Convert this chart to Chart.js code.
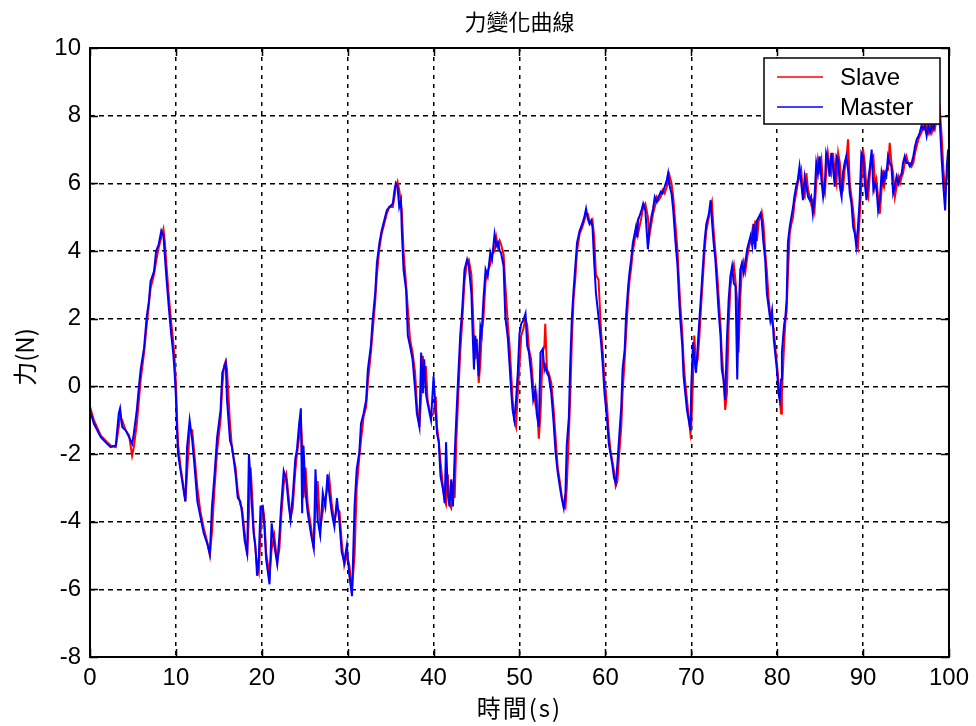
<!DOCTYPE html>
<html>
<head>
<meta charset="utf-8">
<script src="https://cdn.jsdelivr.net/npm/chart.js@4.4.0/dist/chart.umd.min.js"></script>
<style>
  html, body { margin: 0; padding: 0; background: #fff; }
  canvas { display: block; }
</style>
</head>
<body>
<canvas id="grafico" width="976" height="726"></canvas>
<script>
// textos do grafico
const titulo = "力變化曲線";
const rotuloX = "時間(s)";
const rotuloY = "力(N)";
const nomes = ["Slave", "Master"];

// marcas dos eixos
const ticksX = [0, 10, 20, 30, 40, 50, 60, 70, 80, 90, 100];
const ticksY = [-8, -6, -4, -2, 0, 2, 4, 6, 8, 10];

// tempo (s)
const tempo = [
  0, 0.45, 1.25, 2.0, 2.4, 3.0, 3.35, 3.5, 3.75, 4.15,
  4.55, 4.9, 5.1, 5.45, 5.7, 5.9, 6.3, 6.6, 6.85, 7.05,
  7.45, 7.7, 8.0, 8.3, 8.55, 8.7, 8.9, 9.2, 9.45, 9.7,
  9.85, 10.0, 10.1, 10.25, 10.55, 10.85, 11.1, 11.3, 11.6, 11.9,
  12.15, 12.5, 12.85, 13.25, 13.65, 13.95, 14.2, 14.5, 14.8, 15.2,
  15.4, 15.6, 15.8, 15.95, 16.3, 16.55, 16.95, 17.2, 17.5, 17.7,
  18.0, 18.3, 18.5, 18.7, 18.9, 19.05, 19.25, 19.45, 19.65, 19.85,
  20.1, 20.3, 20.5, 20.9, 21.15, 21.45, 21.8, 22.05, 22.25, 22.55,
  22.85, 23.1, 23.35, 23.6, 23.9, 24.1, 24.35, 24.55, 24.7, 24.85,
  25.1, 25.35, 25.75, 26.05, 26.25, 26.5, 26.8, 27.1, 27.4, 27.65,
  27.85, 28.15, 28.45, 28.75, 29.05, 29.3, 29.6, 29.9, 30.2, 30.5,
  30.8, 31.05, 31.35, 31.55, 31.85, 32.15, 32.35, 32.7, 32.9, 33.2,
  33.4, 33.7, 33.95, 34.25, 34.55, 34.85, 35.25, 35.45, 35.6, 35.8,
  36.0, 36.2, 36.3, 36.5, 36.8, 37.0, 37.25, 37.55, 37.85, 38.05,
  38.35, 38.55, 38.75, 38.9, 39.1, 39.3, 39.7, 40.0, 40.25, 40.4,
  40.6, 40.8, 41.1, 41.3, 41.45, 41.65, 41.85, 42.05, 42.25, 42.45,
  42.65, 42.85, 43.1, 43.35, 43.6, 43.9, 44.1, 44.4, 44.55, 44.7,
  44.85, 45.05, 45.25, 45.45, 45.6, 45.8, 46.05, 46.3, 46.6, 46.8,
  47.1, 47.3, 47.5, 47.7, 47.85, 48.15, 48.35, 48.65, 48.85, 49.05,
  49.2, 49.4, 49.6, 49.8, 50.0, 50.2, 50.45, 50.7, 50.9, 51.1,
  51.35, 51.6, 51.85, 52.0, 52.25, 52.45, 52.7, 52.9, 53.0, 53.2,
  53.4, 53.7, 53.95, 54.2, 54.45, 54.75, 54.95, 55.15, 55.35, 55.5,
  55.75, 55.9, 56.1, 56.3, 56.5, 56.7, 57.0, 57.3, 57.55, 57.75,
  57.95, 58.15, 58.35, 58.5, 58.7, 58.9, 59.2, 59.5, 59.7, 59.9,
  60.2, 60.4, 60.6, 60.8, 61.0, 61.2, 61.4, 61.55, 61.85, 62.0,
  62.25, 62.4, 62.65, 62.8, 63.0, 63.2, 63.4, 63.55, 63.7, 63.8,
  64.2, 64.4, 64.65, 64.95, 65.1, 65.35, 65.55, 65.75, 66.0, 66.2,
  66.45, 66.65, 66.9, 67.15, 67.3, 67.45, 67.7, 67.9, 68.15, 68.4,
  68.55, 68.7, 68.95, 69.1, 69.3, 69.5, 69.7, 69.9, 70.0, 70.2,
  70.35, 70.55, 70.75, 70.95, 71.15, 71.35, 71.55, 71.75, 72.05, 72.25,
  72.4, 72.6, 72.8, 73.0, 73.2, 73.4, 73.55, 73.75, 73.95, 74.15,
  74.35, 74.55, 74.75, 74.95, 75.15, 75.35, 75.5, 75.7, 75.9, 76.1,
  76.3, 76.5, 76.7, 76.9, 77.1, 77.25, 77.45, 77.65, 77.85, 78.05,
  78.2, 78.4, 78.6, 78.8, 79.0, 79.2, 79.4, 79.6, 79.8, 80.0,
  80.15, 80.3, 80.45, 80.55, 80.8, 80.95, 81.1, 81.25, 81.45, 81.65,
  81.85, 82.0, 82.2, 82.4, 82.6, 82.8, 83.0, 83.2, 83.4, 83.6,
  83.8, 83.95, 84.15, 84.35, 84.55, 84.75, 84.95, 85.15, 85.35, 85.55,
  85.7, 85.9, 86.1, 86.3, 86.5, 86.7, 86.9, 87.1, 87.3, 87.5,
  87.65, 87.85, 88.05, 88.25, 88.45, 88.65, 88.85, 89.05, 89.2, 89.4,
  89.6, 89.8, 90.0, 90.2, 90.4, 90.6, 90.8, 91.0, 91.2, 91.4,
  91.55, 91.75, 91.95, 92.15, 92.35, 92.5, 92.7, 92.9, 93.1, 93.3,
  93.5, 93.7, 93.9, 94.1, 94.3, 94.5, 94.65, 94.85, 95.05, 95.25,
  95.45, 95.65, 95.85, 96.05, 96.25, 96.45, 96.6, 96.8, 97.0, 97.2,
  97.4, 97.6, 97.8, 98.0, 98.2, 98.35, 98.55, 98.75, 98.95, 99.15,
  99.35, 99.55, 99.75, 99.9, 100
];

// forca do Slave (N)
const slave = [
  -0.6, -1.0, -1.45, -1.65, -1.75, -1.8, -1.2, -0.9, -1.0, -1.3,
  -1.45, -2.05, -1.8, -1.1, -0.4, 0.2, 1.0, 1.8, 2.4, 2.9,
  3.3, 3.7, 4.1, 4.4, 4.65, 4.3, 3.6, 2.6, 1.9, 1.3,
  0.8, 0.1, -0.7, -1.7, -2.4, -2.9, -3.4, -2.6, -1.3, -1.3,
  -2.0, -3.0, -3.7, -4.2, -4.6, -5.0, -4.3, -3.0, -1.9, -1.0,
  0.0, 0.6, 0.75, 0.5, -1.1, -1.9, -2.4, -3.1, -3.5, -3.6,
  -4.3, -5.0, -3.8, -2.4, -3.3, -4.2, -4.8, -5.3, -5.5, -4.4,
  -3.5, -3.9, -4.9, -5.6, -4.8, -4.4, -5.2, -4.8, -3.9, -2.9,
  -2.6, -3.2, -3.9, -3.6, -2.5, -2.0, -1.5, -1.0, -1.7, -3.3,
  -2.4, -3.5, -4.2, -4.8, -3.5, -2.8, -4.2, -3.7, -3.3, -3.0,
  -2.7, -3.5, -4.0, -3.6, -3.7, -4.6, -5.3, -5.0, -5.3, -6.0,
  -5.0, -3.0, -2.1, -1.6, -0.9, -0.6, 0.1, 1.0, 1.6, 2.5,
  3.3, 4.1, 4.5, 4.8, 5.1, 5.3, 5.3, 5.6, 5.9, 6.05,
  5.8, 5.4, 5.2, 4.0, 3.0, 2.3, 1.4, 1.0, 0.4, -0.5,
  -1.2, -0.3, 0.9, 0.2, 0.6, -0.4, -0.9, -0.8, -0.3, -1.2,
  -1.6, -2.2, -3.0, -3.4, -3.5, -2.6, -3.5, -3.6, -3.0, -3.3,
  -1.6, -0.4, 1.0, 2.0, 3.1, 3.7, 3.75, 3.3, 2.4, 1.4,
  0.8, 1.4, 0.1, 0.7, 1.6, 2.0, 3.1, 3.4, 3.6, 3.9,
  4.0, 4.4, 4.1, 4.3, 4.2, 3.9, 3.0, 1.8, 1.2, 0.3,
  -0.4, -1.0, -1.2, -0.2, 0.6, 1.5, 1.7, 2.0, 1.8, 1.1,
  0.8, 0.0, -0.5, -0.3, -1.55, -0.8, 1.0, 1.2, 1.85, 0.5,
  0.4, 0.1, -0.6, -1.5, -2.4, -2.9, -3.3, -3.55, -3.6, -3.0,
  -1.4, -0.4, 1.4, 2.6, 3.2, 4.0, 4.5, 4.7, 4.9, 5.1,
  5.1, 4.9, 4.8, 4.9, 4.4, 3.3, 3.15, 1.6, 1.0, 0.2,
  -0.6, -1.4, -1.9, -2.2, -2.5, -2.95, -2.8, -2.2, -1.2, -0.2,
  0.8, 1.5, 2.6, 3.1, 3.5, 4.0, 4.3, 4.6, 4.8, 4.5,
  5.0, 5.3, 5.4, 5.0, 4.4, 4.8, 5.1, 5.3, 5.6, 5.5,
  5.6, 5.8, 5.7, 5.9, 6.1, 6.25, 6.0, 5.6, 4.8, 4.0,
  3.2, 2.5, 1.6, 0.8, 0.1, -0.4, -0.9, -1.4, -1.2, 0.2,
  1.5, 0.6, 0.8, 1.5, 2.4, 3.2, 4.0, 4.6, 5.0, 5.3,
  5.45, 4.6, 4.0, 3.4, 2.6, 1.8, 1.0, 0.3, -0.7, -0.2,
  1.8, 2.9, 3.4, 3.6, 3.1, 2.5, 1.0, 2.6, 3.5, 3.7,
  3.4, 3.8, 4.1, 4.3, 4.6, 4.2, 4.9, 4.3, 4.9, 5.0,
  5.15, 4.8, 4.0, 3.4, 2.6, 2.1, 1.9, 1.7, 1.1, 0.6,
  0.1, -0.4, -0.8, -0.2, 1.2, 1.9, 2.2, 3.3, 4.5, 4.8,
  5.0, 5.4, 5.7, 6.0, 6.2, 6.4, 5.7, 5.6, 6.3, 5.8,
  5.6, 5.4, 5.5, 5.2, 6.0, 6.7, 6.4, 6.7, 5.9, 5.7,
  6.3, 6.9, 6.5, 6.3, 6.9, 6.3, 6.0, 6.9, 6.6, 5.7,
  5.8, 6.4, 6.7, 7.3, 6.0, 5.6, 5.2, 4.6, 4.3, 4.1,
  5.0, 6.0, 7.0, 6.6, 5.8, 5.6, 6.3, 6.7, 6.8, 5.9,
  6.1, 5.6, 5.1, 5.8, 6.4, 6.0, 6.4, 6.4, 7.2, 6.6,
  6.3, 5.6, 5.9, 6.2, 6.0, 6.2, 6.3, 6.6, 6.8, 6.6,
  6.6, 6.5, 6.6, 6.9, 7.1, 7.3, 7.4, 7.5, 7.7, 7.6,
  7.7, 7.5, 7.7, 7.5, 7.7, 7.6, 7.9, 7.8, 8.1, 7.4,
  6.4, 5.8, 6.2, 6.8, 6.0
];

// forca do Master (N)
const master = [
  -0.7, -1.1, -1.5, -1.7, -1.8, -1.75, -0.8, -0.65, -1.2, -1.3,
  -1.5, -1.7, -1.4, -0.7, 0.0, 0.5, 1.15, 2.05, 2.5, 3.1,
  3.4, 4.0, 4.2, 4.6, 4.45, 3.9, 3.2, 2.25, 1.55, 0.95,
  0.4, -0.3, -1.1, -2.0, -2.5, -3.0, -3.4, -1.8, -1.0, -1.6,
  -2.3, -3.4, -3.85, -4.35, -4.65, -4.95, -3.55, -2.6, -1.5, -0.7,
  0.4, 0.55, 0.7, -0.4, -1.6, -1.8, -2.6, -3.3, -3.4, -3.75,
  -4.55, -4.95, -2.0, -2.8, -3.75, -4.35, -4.7, -5.6, -5.05, -3.55,
  -3.55, -4.15, -5.1, -5.85, -4.05, -4.7, -5.25, -4.4, -3.55, -2.5,
  -2.75, -3.45, -3.95, -3.25, -2.15, -1.85, -1.1, -0.65, -3.75, -1.75,
  -3.15, -3.75, -4.4, -4.8, -2.45, -3.95, -4.4, -3.15, -3.55, -2.6,
  -3.15, -3.75, -4.15, -3.3, -4.05, -4.9, -5.2, -4.7, -5.6, -6.2,
  -3.55, -2.45, -1.95, -1.1, -0.8, -0.4, 0.5, 1.2, 1.95, 2.75,
  3.65, 4.25, 4.6, 4.9, 5.2, 5.3, 5.4, 5.8, 6.0, 5.9,
  5.3, 5.5, 4.6, 3.45, 2.85, 1.5, 1.2, 0.8, -0.1, -0.8,
  -1.2, 1.0, -0.2, 0.8, -0.2, -0.5, -1.0, 0.3, -0.8, -1.4,
  -1.65, -2.65, -3.05, -3.45, -1.65, -3.15, -3.55, -2.75, -3.55, -2.05,
  -0.9, 0.2, 1.5, 2.35, 3.45, 3.75, 3.55, 2.75, 1.55, 0.5,
  1.5, 1.1, 0.3, 1.75, 1.55, 2.55, 3.45, 3.25, 3.95, 3.75,
  4.5, 4.15, 4.25, 4.0, 3.95, 3.55, 2.05, 1.4, 0.6, -0.2,
  -0.7, -1.0, -0.4, 0.4, 1.55, 1.85, 1.95, 2.15, 1.2, 1.0,
  0.4, -0.4, -0.1, -0.8, -1.2, 1.0, 1.1, 0.5, 0.6, 0.4,
  0.3, -0.2, -1.0, -1.95, -2.55, -3.05, -3.35, -3.6, -3.15, -1.75,
  -0.9, 0.6, 2.05, 2.85, 3.55, 4.25, 4.6, 4.8, 5.0, 5.25,
  4.95, 4.8, 4.9, 4.7, 3.65, 2.75, 2.05, 1.3, 0.6, -0.2,
  -1.0, -1.7, -2.0, -2.3, -2.7, -2.85, -2.3, -1.7, -0.6, 0.5,
  1.1, 2.05, 2.95, 3.35, 3.75, 4.25, 4.5, 4.7, 4.4, 4.9,
  5.2, 5.4, 5.2, 4.05, 4.6, 5.0, 5.25, 5.6, 5.45, 5.6,
  5.75, 5.7, 5.9, 6.1, 6.3, 5.95, 5.7, 5.2, 4.3, 3.55,
  2.75, 2.05, 1.2, 0.3, -0.2, -0.7, -1.0, -1.3, 0.0, 1.3,
  0.8, 0.4, 1.2, 2.0, 2.75, 3.55, 4.3, 4.8, 5.1, 5.5,
  4.9, 4.25, 3.75, 2.95, 2.15, 1.5, 0.5, 0.2, -0.4, 1.4,
  2.55, 3.25, 3.55, 3.05, 2.95, 0.2, 2.0, 3.45, 3.65, 3.35,
  3.65, 4.05, 4.25, 4.45, 4.15, 4.8, 4.05, 4.9, 5.0, 5.1,
  4.9, 4.25, 3.75, 2.75, 2.35, 1.95, 2.25, 1.4, 0.9, 0.4,
  -0.2, -0.4, 0.2, 1.0, 1.8, 2.05, 2.55, 4.25, 4.7, 5.0,
  5.3, 5.6, 5.9, 6.1, 6.5, 6.0, 5.5, 6.2, 5.9, 5.6,
  5.5, 5.6, 5.1, 5.6, 6.6, 6.3, 6.8, 6.1, 5.6, 6.0,
  6.9, 6.7, 6.2, 6.9, 6.5, 5.9, 6.8, 6.7, 5.9, 5.6,
  6.3, 6.6, 6.8, 6.4, 5.7, 5.4, 4.7, 4.5, 4.15, 4.7,
  5.5, 6.9, 6.8, 6.0, 5.5, 6.1, 6.5, 7.0, 5.8, 6.0,
  5.9, 5.2, 5.5, 6.3, 6.0, 6.3, 6.2, 6.8, 6.6, 6.5,
  5.7, 5.9, 6.2, 6.0, 6.2, 6.3, 6.6, 6.8, 6.6, 6.6,
  6.5, 6.6, 6.8, 7.1, 7.3, 7.4, 7.5, 7.7, 7.6, 7.7,
  7.4, 7.7, 7.5, 7.7, 7.6, 7.9, 7.8, 8.1, 7.7, 6.7,
  5.9, 5.2, 6.5, 7.0, 6.6
];

const fonteNum = '24px "Liberation Sans", Arial, sans-serif';
const fonteTitulo = '22px "Noto Sans CJK TC", "Noto Sans CJK SC", sans-serif';
const fonteCJK = '24px "Noto Sans CJK TC", "Noto Sans CJK SC", sans-serif';

// moldura, tracinhos para dentro, legenda e textos
const moldura = {
  id: "moldura",
  afterDraw(chart) {
    const { ctx, chartArea: a, scales: { x, y } } = chart;
    ctx.save();
    ctx.strokeStyle = "#000";
    ctx.lineWidth = 2;
    ctx.setLineDash([]);
    ctx.strokeRect(a.left, a.top, a.right - a.left, a.bottom - a.top);

    ctx.lineWidth = 1.5;
    ctx.beginPath();
    ticksX.forEach(v => {
      const px = Math.round(x.getPixelForValue(v)) + 0.5;
      ctx.moveTo(px, a.bottom); ctx.lineTo(px, a.bottom - 8);
      ctx.moveTo(px, a.top); ctx.lineTo(px, a.top + 8);
    });
    ticksY.forEach(v => {
      const py = Math.round(y.getPixelForValue(v)) + 0.5;
      ctx.moveTo(a.left, py); ctx.lineTo(a.left + 8, py);
      ctx.moveTo(a.right, py); ctx.lineTo(a.right - 8, py);
    });
    ctx.stroke();

    // legenda
    const lx = 764, ly = 58, lw = 176, lh = 66;
    ctx.fillStyle = "#fff";
    ctx.fillRect(lx, ly, lw, lh);
    ctx.lineWidth = 1.5;
    ctx.strokeRect(lx, ly, lw, lh);
    chart.data.datasets.forEach((ds, i) => {
      const yy = ly + 19 + i * 30;
      ctx.strokeStyle = ds.borderColor;
      ctx.lineWidth = 1.5;
      ctx.beginPath();
      ctx.moveTo(lx + 13, yy); ctx.lineTo(lx + 59, yy);
      ctx.stroke();
      ctx.fillStyle = "#000";
      ctx.font = fonteNum;
      ctx.textAlign = "left";
      ctx.textBaseline = "middle";
      ctx.fillText(ds.label, lx + 76, yy + 1);
    });

    // titulo e rotulos
    ctx.fillStyle = "#000";
    ctx.textAlign = "center";
    ctx.textBaseline = "middle";
    ctx.font = fonteTitulo;
    ctx.fillText(titulo, (a.left + a.right) / 2, 22);
    ctx.font = fonteCJK;
    ctx.letterSpacing = "2px";
    ctx.fillText(rotuloX, (a.left + a.right) / 2, 708);
    ctx.letterSpacing = "0px";
    ctx.translate(25, 357);
    ctx.rotate(-Math.PI / 2);
    ctx.fillText(rotuloY, 0, 0);
    ctx.restore();
  }
};

const ctx = document.getElementById("grafico");

new Chart(ctx, {
  type: "line",
  data: {
    datasets: [
      {
        label: nomes[0],
        data: tempo.map((t, i) => ({ x: t, y: slave[i] })),
        borderColor: "#ff0000",
        borderWidth: 2,
        pointRadius: 0,
        tension: 0,
        order: 1
      },
      {
        label: nomes[1],
        data: tempo.map((t, i) => ({ x: t, y: master[i] })),
        borderColor: "#0000ff",
        borderWidth: 2,
        pointRadius: 0,
        tension: 0,
        order: 0
      }
    ]
  },
  options: {
    responsive: false,
    animation: false,
    layout: { padding: { left: 0, right: 26, top: 48, bottom: 0 } },
    plugins: {
      legend: { display: false },
      title: { display: false },
      tooltip: { enabled: false }
    },
    scales: {
      x: {
        type: "linear",
        min: 0,
        max: 100,
        afterBuildTicks: s => { s.ticks = ticksX.map(v => ({ value: v })); },
        afterFit: s => { s.height = 69; },
        ticks: { color: "#000", font: { family: '"Liberation Sans", Arial', size: 24 }, padding: 7, maxRotation: 0, autoSkip: false },
        grid: { color: "#000", lineWidth: 1.5, drawTicks: false },
        border: { display: false, dash: [4, 5] }
      },
      y: {
        min: -8,
        max: 10,
        afterBuildTicks: s => { s.ticks = ticksY.map(v => ({ value: v })); },
        afterFit: s => { s.width = 90; },
        ticks: { color: "#000", font: { family: '"Liberation Sans", Arial', size: 24 }, padding: 9, autoSkip: false },
        grid: { color: "#000", lineWidth: 1.5, drawTicks: false },
        border: { display: false, dash: [5, 4] }
      }
    }
  },
  plugins: [moldura]
});
</script>
</body>
</html>
